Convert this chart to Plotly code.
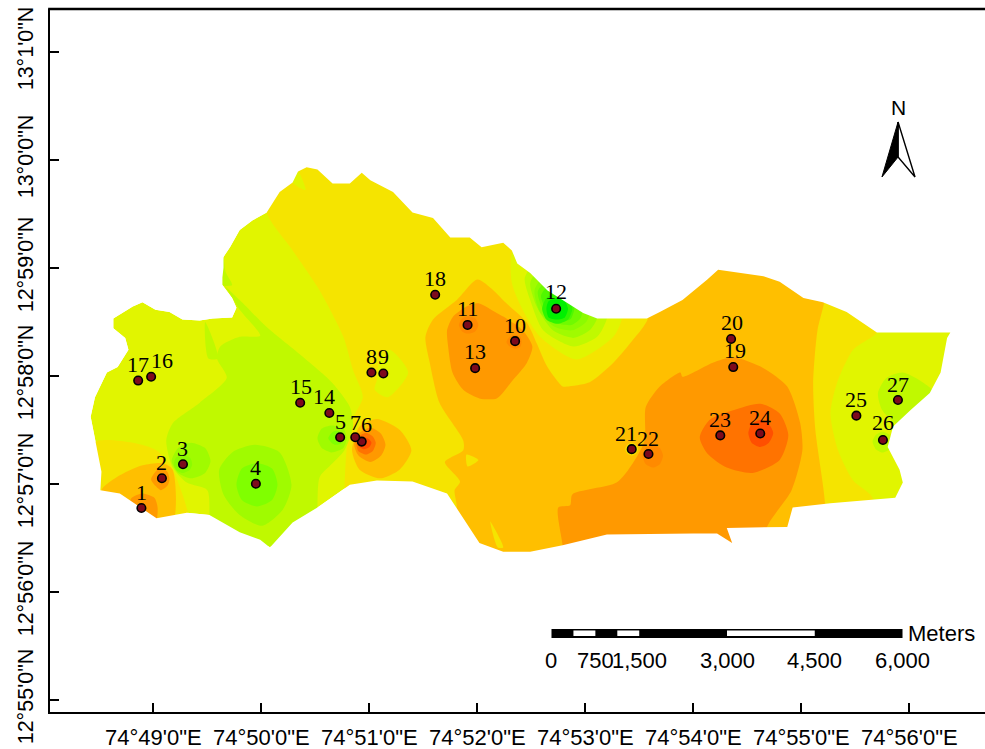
import plotly.graph_objects as go

# All geographic values are in arc-minutes: longitude past 74 deg, latitude past 12 deg.
x_tick_vals = [49, 50, 51, 52, 53, 54, 55, 56]
x_tick_text = ["74°49'0\"E", "74°50'0\"E", "74°51'0\"E", "74°52'0\"E", "74°53'0\"E", "74°54'0\"E", "74°55'0\"E", "74°56'0\"E"]
y_tick_vals = [55, 56, 57, 58, 59, 60, 61]
y_tick_text = ["12°55'0\"N", "12°56'0\"N", "12°57'0\"N", "12°58'0\"N", "12°59'0\"N", "13°0'0\"N", "13°1'0\"N"]
x_range = [48.0436, 56.7010]
y_range = [54.8861, 61.3954]

station_id = list(range(1, 28))
station_lon = [48.89, 49.08, 49.275, 49.95, 50.73, 50.93, 50.87, 51.02, 51.13, 52.35, 51.91, 52.73, 51.98, 50.63, 50.36, 48.98, 48.86, 51.61, 54.37, 54.35, 53.43, 53.585, 54.25, 54.62, 55.51, 55.756, 55.895]
station_lat = [56.775, 57.05, 57.18, 57.00, 57.43, 57.39, 57.43, 58.03, 58.02, 58.32, 58.47, 58.62, 58.07, 57.655, 57.75, 57.99, 57.955, 58.75, 58.08, 58.34, 57.32, 57.275, 57.447, 57.465, 57.63, 57.405, 57.775]
label_dx = [0, 0, 0, 0, 0, 5, 0, 0, 0, 0, 0, 0, 0, -5.5, 0.5, 10.5, -0.5, 0, 1.5, 1, -6, -0.5, -0.5, -0.5, -0.5, 0, 0]
label_dy = [16, 16, 16, 16, 16, 17, 15, 16, 17, 16, 16, 17, 17, 16, 16.5, 16, 16.5, 16.5, 17, 16, 16, 16, 15.5, 15.5, 16, 17, 16]

boundary_lon = [48.51, 48.52, 48.42, 48.46, 48.57, 48.67, 48.77, 48.74, 48.63, 48.63, 48.81, 48.90, 49.02, 49.15, 49.27, 49.43, 49.55, 49.73, 49.77, 49.73, 49.64, 49.64, 49.65, 49.65, 49.71, 49.80, 49.92, 50.05, 50.17, 50.29, 50.34, 50.42, 50.52, 50.66, 50.82, 50.93, 51.01, 51.22, 51.40, 51.59, 51.75, 51.93, 52.04, 52.24, 52.32, 52.37, 52.49, 52.65, 52.79, 52.98, 53.11, 53.57, 53.69, 53.90, 54.00, 54.13, 54.23, 54.43, 54.65, 54.80, 55.02, 55.20, 55.42, 55.70, 56.38, 56.35, 56.29, 56.19, 56.01, 55.85, 55.80, 55.91, 55.94, 55.87, 55.27, 54.92, 54.87, 54.31, 54.36, 54.22, 54.00, 53.20, 52.79, 52.49, 52.24, 52.02, 51.96, 51.84, 51.72, 51.40, 51.07, 50.82, 50.52, 50.29, 50.08, 49.99, 49.80, 49.52, 49.31, 49.03, 48.88, 48.69, 48.51]
boundary_lat = [56.94, 57.11, 57.62, 57.80, 58.03, 58.08, 58.24, 58.35, 58.44, 58.53, 58.64, 58.68, 58.61, 58.59, 58.52, 58.51, 58.53, 58.54, 58.63, 58.72, 58.84, 58.91, 59.00, 59.10, 59.19, 59.35, 59.44, 59.51, 59.70, 59.79, 59.89, 59.93, 59.91, 59.78, 59.78, 59.88, 59.81, 59.70, 59.51, 59.46, 59.28, 59.28, 59.19, 59.23, 59.16, 59.04, 58.95, 58.79, 58.70, 58.58, 58.53, 58.53, 58.59, 58.70, 58.78, 58.89, 58.98, 58.95, 58.92, 58.87, 58.72, 58.68, 58.59, 58.40, 58.40, 58.35, 58.03, 57.84, 57.68, 57.53, 57.34, 57.13, 57.01, 56.87, 56.82, 56.78, 56.60, 56.59, 56.45, 56.54, 56.54, 56.53, 56.43, 56.37, 56.37, 56.45, 56.54, 56.73, 56.91, 57.02, 57.03, 56.99, 56.78, 56.64, 56.41, 56.48, 56.55, 56.71, 56.73, 56.68, 56.78, 56.91, 56.94]

C_RED = "#ff4f00"
C_DEEP = "#ff7300"
C_MID = "#ff8a00"
C_ORANGE = "#ff9900"
C_GOLD = "#ffbf00"
C_YELLOW = "#f5e400"
C_LIME1 = "#e1f500"
C_LIME2 = "#c0f900"
C_LIME3 = "#a0fb00"
C_GREEN1 = "#80ff00"
C_GREEN2 = "#8cfb00"
C_GREEN3 = "#70fa00"
C_GREEN4 = "#50f800"
C_GREEN5 = "#30f500"
C_GREEN6 = "#00f000"

# zones are painted in order: (colour, longitudes, latitudes)
zones = [
    (C_LIME1, boundary_lon, boundary_lat),
    (C_YELLOW, [50.05, 50.29, 50.54, 50.76, 50.85, 50.94, 50.84, 50.79, 50.77, 50.77, 56.47, 56.47, 50.05], [59.51, 59.16, 58.79, 58.36, 58.05, 57.80, 57.59, 57.31, 56.94, 56.20, 56.20, 60.09, 60.09]),
    (C_LIME1, [50.34, 50.41, 50.29], [59.89, 59.72, 59.79]),
    (C_LIME2, [49.65, 49.80, 50.05, 50.39, 50.66, 50.82, 50.85, 50.77, 50.64, 50.54, 50.52, 50.52, 49.52, 49.52, 49.50, 49.31, 49.18, 49.12, 49.18, 49.43, 49.68, 49.59, 49.62, 49.80, 49.99, 49.80, 49.69], [58.84, 58.70, 58.45, 58.17, 57.93, 57.71, 57.53, 57.31, 57.17, 57.06, 56.78, 56.48, 56.48, 56.71, 56.94, 57.01, 57.15, 57.40, 57.56, 57.75, 57.98, 58.16, 58.27, 58.36, 58.37, 58.61, 58.79]),
    (C_LIME2, [49.65, 49.67, 49.73, 49.64, 49.64], [59.10, 58.96, 58.84, 58.84, 59.05]),
    (C_LIME2, [49.48, 49.60, 49.51], [58.50, 58.16, 58.16]),
    (C_LIME3, [49.94, 50.17, 50.28, 50.20, 50.01, 49.80, 49.65, 49.61, 49.73], [57.36, 57.29, 56.99, 56.76, 56.61, 56.71, 56.90, 57.13, 57.29]),
    (C_GREEN1, [49.96, 50.10, 50.15, 50.10, 49.96, 49.82, 49.77, 49.82], [57.19, 57.14, 56.99, 56.85, 56.79, 56.85, 56.99, 57.14]),
    (C_LIME3, [49.35, 49.48, 49.53, 49.48, 49.35, 49.23, 49.17, 49.23], [57.38, 57.33, 57.21, 57.10, 57.05, 57.10, 57.21, 57.33]),
    (C_GREEN2, [49.27, 49.34, 49.36, 49.34, 49.27, 49.21, 49.19, 49.21], [57.27, 57.24, 57.18, 57.13, 57.10, 57.13, 57.18, 57.24]),
    (C_LIME3, [50.65, 50.76, 50.79, 50.76, 50.65, 50.56, 50.52, 50.56], [57.54, 57.51, 57.42, 57.33, 57.29, 57.33, 57.42, 57.51]),
    (C_GREEN1, [50.69, 50.75, 50.77, 50.75, 50.69, 50.65, 50.62, 50.65], [57.49, 57.47, 57.42, 57.38, 57.36, 57.38, 57.42, 57.47]),
    (C_YELLOW, [48.45, 48.81, 49.03, 49.17, 49.32, 49.31, 48.46], [57.38, 57.38, 57.31, 57.15, 56.73, 56.62, 56.62]),
    (C_GOLD, [48.52, 48.66, 48.90, 49.09, 49.18, 49.17, 48.60], [56.94, 57.06, 57.17, 57.19, 57.13, 56.62, 56.62]),
    (C_ORANGE, [49.07, 49.13, 49.15, 49.13, 49.07, 49.02, 48.98, 49.02], [57.15, 57.11, 57.04, 56.98, 56.94, 56.98, 57.04, 57.11]),
    (C_ORANGE, [48.90, 49.01, 49.04, 49.02, 48.77, 48.77, 48.80], [56.91, 56.87, 56.78, 56.65, 56.65, 56.78, 56.87]),
    (C_LIME1, [51.19, 51.36, 51.17, 51.05, 51.07, 51.10], [58.24, 58.03, 57.80, 57.87, 57.96, 58.17]),
    (C_GOLD, [51.07, 51.28, 51.39, 51.28, 51.10, 50.91, 50.84, 50.91], [57.60, 57.50, 57.31, 57.13, 57.05, 57.13, 57.31, 57.53]),
    (C_ORANGE, [51.01, 51.11, 51.15, 51.11, 51.01, 50.90, 50.86, 50.90], [57.52, 57.46, 57.36, 57.26, 57.20, 57.26, 57.36, 57.46]),
    (C_DEEP, [50.97, 51.03, 51.06, 51.03, 50.97, 50.90, 50.88, 50.90], [57.47, 57.44, 57.38, 57.30, 57.27, 57.30, 57.38, 57.44]),
    (C_RED, [50.95, 51.00, 51.02, 51.00, 50.95, 50.91, 50.90, 50.91], [57.43, 57.41, 57.38, 57.34, 57.32, 57.34, 57.38, 57.41]),
    (C_GOLD, [52.00, 52.15, 52.27, 52.46, 52.55, 52.65, 52.79, 52.83, 53.04, 53.26, 53.44, 53.58, 53.58, 55.27, 55.21, 55.15, 55.11, 55.13, 55.22, 55.22, 51.70, 51.70, 51.81, 51.79, 51.84, 51.70, 51.87, 51.87, 51.65, 51.56, 51.52, 51.59, 51.81], [58.89, 58.79, 58.67, 58.49, 58.30, 58.08, 57.90, 57.90, 57.94, 58.12, 58.33, 58.53, 59.16, 59.16, 58.67, 58.42, 57.93, 57.50, 56.82, 56.29, 56.29, 56.58, 56.76, 56.94, 57.02, 57.20, 57.31, 57.40, 57.75, 58.12, 58.36, 58.52, 58.70]),
    (C_YELLOW, [51.90, 52.01, 51.91], [57.27, 57.22, 57.16]),
    (C_YELLOW, [52.12, 52.24, 52.19], [56.65, 56.41, 56.41]),
    (C_ORANGE, [52.01, 52.18, 52.27, 52.42, 52.51, 52.46, 52.33, 52.18, 52.02, 51.87, 51.77, 51.73, 51.72, 51.77, 51.90], [58.67, 58.58, 58.53, 58.42, 58.27, 58.12, 57.96, 57.79, 57.79, 57.87, 58.03, 58.27, 58.42, 58.54, 58.64]),
    (C_MID, [51.91, 51.98, 52.01, 51.98, 51.91, 51.86, 51.83, 51.86], [58.55, 58.53, 58.47, 58.41, 58.39, 58.41, 58.47, 58.53]),
    (C_MID, [52.35, 52.40, 52.41, 52.40, 52.35, 52.30, 52.27, 52.30], [58.38, 58.36, 58.31, 58.27, 58.25, 58.27, 58.31, 58.36]),
    (C_ORANGE, [54.37, 54.65, 54.87, 54.99, 55.01, 54.91, 54.68, 54.68, 52.79, 52.79, 52.75, 52.86, 52.88, 53.29, 53.44, 53.55, 53.56, 53.69, 53.88, 53.90, 54.18], [58.17, 58.07, 57.90, 57.56, 57.31, 56.94, 56.59, 56.29, 56.29, 56.43, 56.78, 56.80, 56.90, 57.01, 57.19, 57.40, 57.71, 57.90, 58.03, 57.99, 58.12]),
    (C_YELLOW, [53.43, 53.47, 53.49, 53.47, 53.43, 53.39, 53.37, 53.39], [57.38, 57.36, 57.32, 57.28, 57.26, 57.28, 57.32, 57.36]),
    (C_MID, [53.63, 53.69, 53.72, 53.69, 53.63, 53.56, 53.53, 53.56], [57.36, 57.33, 57.26, 57.18, 57.15, 57.18, 57.26, 57.33]),
    (C_DEEP, [54.06, 54.15, 54.37, 54.62, 54.80, 54.88, 54.80, 54.55, 54.31, 54.13], [57.43, 57.59, 57.68, 57.74, 57.65, 57.45, 57.22, 57.10, 57.15, 57.28]),
    (C_RED, [54.62, 54.70, 54.74, 54.70, 54.62, 54.54, 54.51, 54.54], [57.59, 57.55, 57.47, 57.38, 57.34, 57.38, 57.47, 57.55]),
    (C_LIME1, [55.70, 55.48, 55.33, 55.27, 55.34, 55.48, 55.66, 55.66, 56.47, 56.47, 55.70], [58.40, 58.24, 57.93, 57.65, 57.31, 57.03, 56.87, 56.29, 56.29, 58.52, 58.52]),
    (C_LIME2, [55.94, 56.19, 56.38, 55.91, 55.75, 55.71, 55.79], [58.03, 57.89, 57.59, 57.54, 57.68, 57.84, 57.98]),
    (C_LIME2, [55.75, 55.82, 55.85, 55.82, 55.75, 55.69, 55.66, 55.69], [57.48, 57.45, 57.39, 57.32, 57.29, 57.32, 57.39, 57.45]),
    (C_LIME1, [52.33, 52.32, 52.42, 52.58, 52.92, 53.26, 53.34, 53.34, 52.58], [59.16, 58.86, 58.61, 58.36, 58.15, 58.36, 58.53, 58.79, 59.16]),
    (C_LIME2, [52.44, 52.49, 52.61, 52.89, 53.11, 53.20, 53.20, 52.58], [58.91, 58.70, 58.42, 58.27, 58.36, 58.53, 58.79, 59.07]),
    (C_LIME3, [52.49, 52.55, 52.70, 52.89, 53.04, 53.11, 53.14, 52.58], [58.86, 58.64, 58.42, 58.35, 58.42, 58.53, 58.75, 58.98]),
    (C_GREEN2, [52.53, 52.58, 52.72, 52.88, 53.01, 53.04, 52.95, 52.63], [58.79, 58.59, 58.45, 58.42, 58.50, 58.59, 58.84, 58.93]),
    (C_GREEN3, [52.56, 52.62, 52.73, 52.87, 52.96, 52.97, 52.67], [58.78, 58.59, 58.49, 58.47, 58.54, 58.70, 58.89]),
    (C_GREEN4, [52.59, 52.65, 52.75, 52.86, 52.90, 52.86, 52.67], [58.74, 58.59, 58.52, 58.52, 58.63, 58.78, 58.84]),
    (C_GREEN5, [52.74, 52.84, 52.88, 52.84, 52.74, 52.64, 52.60, 52.64], [58.76, 58.72, 58.62, 58.52, 58.48, 58.52, 58.62, 58.72]),
    (C_GREEN6, [52.74, 52.81, 52.84, 52.81, 52.74, 52.66, 52.64, 52.66], [58.72, 58.69, 58.62, 58.54, 58.52, 58.54, 58.62, 58.69]),
]

scale_stops_m = [0, 750, 1500, 3000, 4500, 6000]
scale_labels = ["0", "750", "1,500", "3,000", "4,500", "6,000"]
scale_white_m = [(375, 750), (1125, 1500), (3000, 4500)]
scale_lon0 = 52.687
scale_min_per_m = 0.0005417
scale_top, scale_bottom = 55.655, 55.571
scale_inner_top, scale_inner_bottom = 55.641, 55.590
scale_label_lat = 55.365

arrow_lon = [55.896, 55.747, 55.896, 56.053]
arrow_lat = [60.349, 59.840, 60.025, 59.840]

SANS = "Liberation Sans"
SERIF = "Liberation Serif"

fig = go.Figure()


def close(seq):
    return list(seq) + [seq[0]]


for i, (color, lon, lat) in enumerate(zones):
    smooth = i != 0
    fig.add_trace(go.Scatter(
        x=close(lon), y=close(lat), mode="lines", fill="toself", fillcolor=color,
        line=dict(width=0, color=color, shape="spline" if smooth else "linear", smoothing=0.7),
        hoverinfo="skip", showlegend=False,
    ))

# white surround, with the study-area boundary cut out of it (opposite winding)
L, R = x_range
B, T = y_range
fig.add_trace(go.Scatter(
    x=[L, L, R, R, L] + boundary_lon[::-1] + [L],
    y=[B, T, T, B, B] + boundary_lat[::-1] + [B],
    mode="lines", fill="toself", fillcolor="white", line=dict(width=0, color="white"),
    hoverinfo="skip", showlegend=False,
))

fig.add_trace(go.Scatter(
    x=station_lon, y=station_lat, mode="markers",
    marker=dict(size=8.5, color="#7d0a1c", line=dict(color="black", width=1.6)),
    text=[str(s) for s in station_id], hoverinfo="text", showlegend=False,
))

annotations = []
for sid, lon, lat, dx, dy in zip(station_id, station_lon, station_lat, label_dx, label_dy):
    annotations.append(dict(x=lon, y=lat, text=str(sid), showarrow=False, xshift=dx, yshift=dy,
                            font=dict(family=SERIF, size=22, color="black")))

shapes = [dict(type="line", xref="paper", yref="paper", x0=-0.002, x1=1, y0=1, y1=1,
               line=dict(color="black", width=2.4))]


def scale_lon(m):
    return scale_lon0 + m * scale_min_per_m


shapes.append(dict(type="rect", xref="x", yref="y", x0=scale_lon(0), x1=scale_lon(6000), y0=scale_bottom, y1=scale_top,
                   fillcolor="black", line=dict(width=0)))
for a, b in scale_white_m:
    shapes.append(dict(type="rect", xref="x", yref="y", x0=scale_lon(a), x1=scale_lon(b), y0=scale_inner_bottom, y1=scale_inner_top,
                       fillcolor="white", line=dict(width=0)))
for m, label in zip(scale_stops_m, scale_labels):
    annotations.append(dict(x=scale_lon(m), y=scale_label_lat, text=label, showarrow=False,
                            font=dict(family=SANS, size=22, color="black")))
annotations.append(dict(x=55.97, y=55.61, text="Meters", showarrow=False, xanchor="left",
                        font=dict(family=SANS, size=22, color="black")))

annotations.append(dict(x=55.90, y=60.488, text="N", showarrow=False,
                        font=dict(family=SANS, size=21, color="black")))
shapes.append(dict(type="path", xref="x", yref="y",
                   path=f"M{arrow_lon[0]},{arrow_lat[0]} L{arrow_lon[3]},{arrow_lat[3]} L{arrow_lon[2]},{arrow_lat[2]} Z",
                   fillcolor="white", line=dict(color="black", width=1.4)))
shapes.append(dict(type="path", xref="x", yref="y",
                   path=f"M{arrow_lon[0]},{arrow_lat[0]} L{arrow_lon[1]},{arrow_lat[1]} L{arrow_lon[2]},{arrow_lat[2]} Z",
                   fillcolor="black", line=dict(color="black", width=1)))

fig.update_layout(
    width=985, height=749, paper_bgcolor="white", plot_bgcolor="white",
    margin=dict(l=50, r=0, t=9, b=37, autoexpand=False), showlegend=False,
    shapes=shapes, annotations=annotations,
    xaxis=dict(range=x_range, tickmode="array", tickvals=x_tick_vals, ticktext=x_tick_text, automargin=False,
               ticks="inside", ticklen=9, tickwidth=2, tickcolor="black", showgrid=False, zeroline=False,
               showline=True, linecolor="black", linewidth=2.4, ticklabelstandoff=4, ticklabeloverflow="allow",
               tickfont=dict(family=SANS, size=22, color="black")),
    yaxis=dict(range=y_range, tickmode="array", tickvals=y_tick_vals, ticktext=y_tick_text, tickangle=-90, automargin=False,
               ticks="inside", ticklen=9, tickwidth=2, tickcolor="black", showgrid=False, zeroline=False,
               showline=True, linecolor="black", linewidth=2.4, ticklabelstandoff=6, ticklabeloverflow="allow",
               tickfont=dict(family=SANS, size=21.5, color="black")),
)

# remove the page's default body margin so the 985x749 figure fills the window
fig.write_html("out.html", config={"displayModeBar": False}, post_script="document.body.style.margin='0';")
